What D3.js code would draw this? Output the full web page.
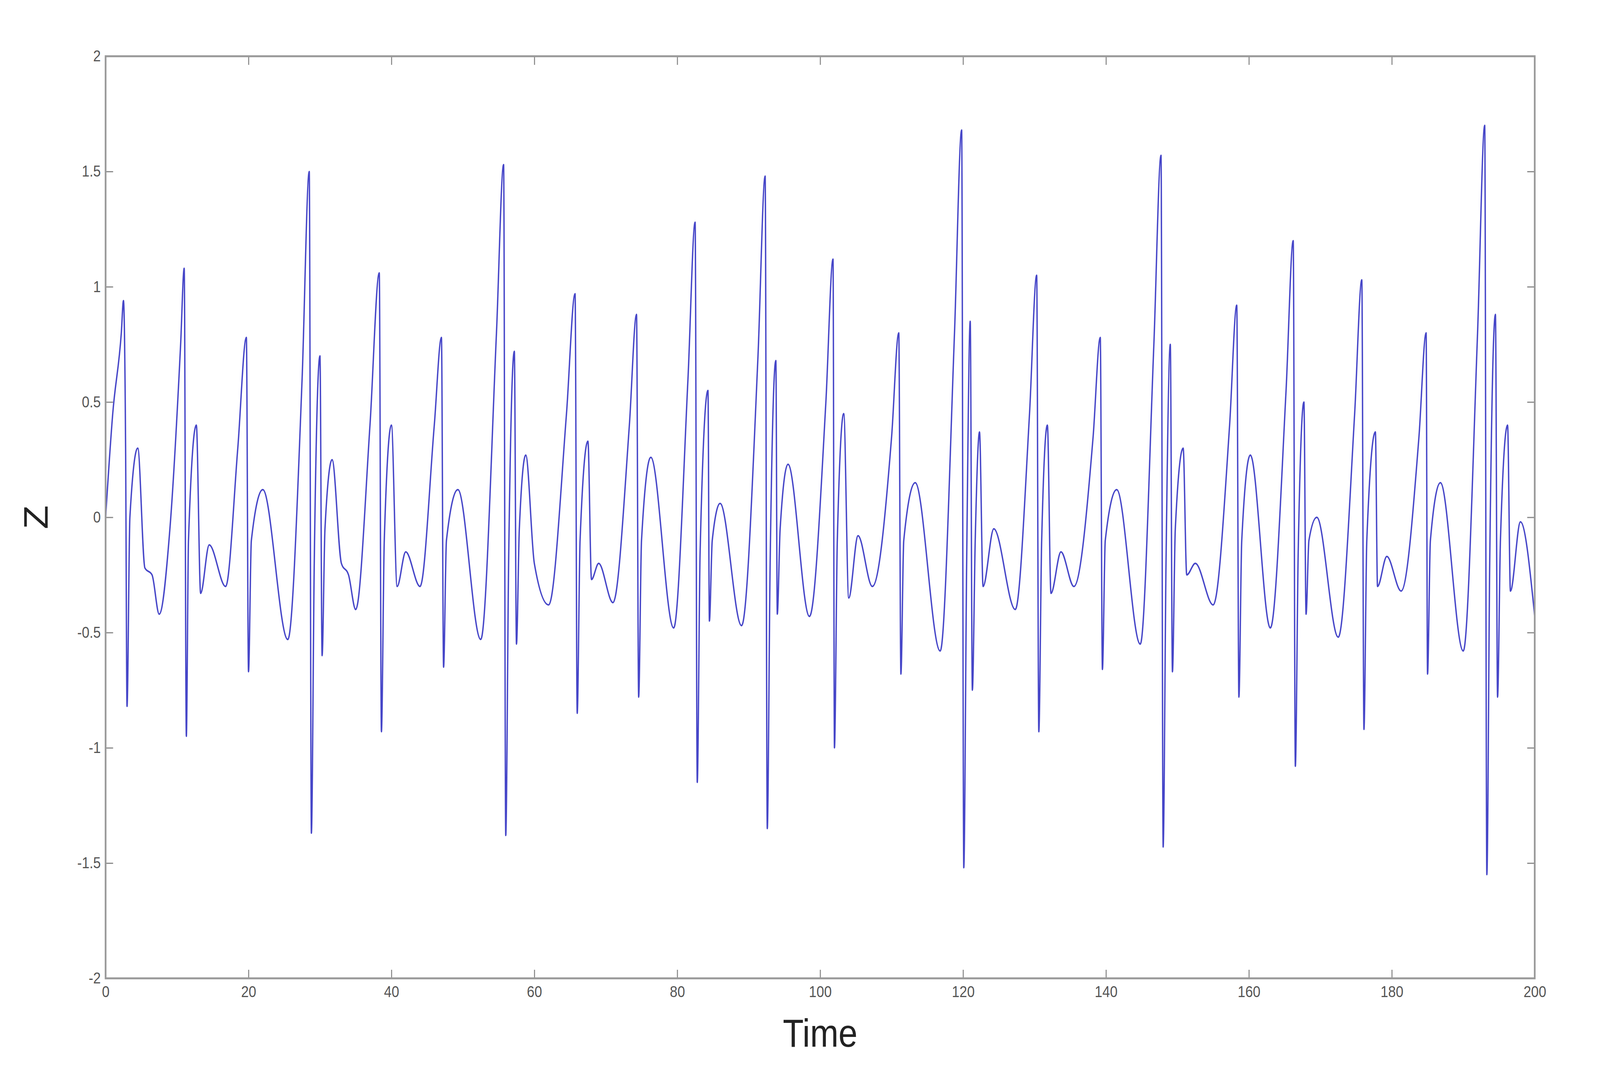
<!DOCTYPE html>
<html><head><meta charset="utf-8">
<script src="https://cdn.jsdelivr.net/npm/d3@7"></script>
<style>html,body{margin:0;background:#fff;overflow:hidden}svg{display:block;width:100vw;height:100vh}</style></head>
<body><svg id="c" viewBox="0 0 4682 2732" preserveAspectRatio="none"></svg>
<script>
const timeValues=[0,1,2.2,2.5,2.8,3.0,3.4,4.5,5.5,6.5,7.5,9,10.5,11,11.3,11.6,12.7,13.3,14.5,16.8,18.5,19.7,20,20.4,22,25.5,27.5,28.5,28.8,29.2,30,30.3,30.7,31.7,33,34,35,37,38.3,38.6,39,40,40.8,42,44,46,47,47.3,47.7,49.3,52.5,54.7,55.7,56,56.4,57.2,57.5,57.9,58.8,60,62,64.5,65.7,66,66.4,67.5,68,69,71,73.3,74.3,74.6,75,76.3,79.5,81.5,82.5,82.8,83.2,84.3,84.5,84.9,86,89,91.3,92.3,92.6,93,93.8,94,94.4,95.5,98.5,100.8,101.8,102,102.4,103.3,104,105.3,107.3,110,111,111.3,111.7,113.3,116.8,118.8,119.8,120.1,120.5,121,121.3,121.7,122.3,122.8,124.3,127.3,129.3,130.3,130.6,131,131.8,132.3,133.7,135.5,138.2,139.2,139.5,139.9,141.5,144.8,146.7,147.7,148,148.4,149,149.3,149.7,150.8,151.3,152.5,155,157.3,158.3,158.6,159,160.2,163,165.2,166.2,166.5,166.9,167.7,168,168.4,169.5,172.5,174.8,175.8,176.1,176.5,177.7,178,179.3,181.3,183.8,184.8,185,185.4,186.8,190,192,193,193.3,193.7,194.5,194.8,195.2,196.2,196.6,198,200];
const zValues=[0,0.45,0.8,0.94,0.3,-0.82,0,0.3,-0.22,-0.25,-0.42,-0.05,0.75,1.08,-0.95,-0.1,0.4,-0.33,-0.12,-0.3,0.3,0.78,-0.67,-0.1,0.12,-0.53,0.6,1.5,-1.37,-0.2,0.7,-0.6,-0.05,0.25,-0.2,-0.25,-0.4,0.4,1.06,-0.93,-0.1,0.4,-0.3,-0.15,-0.3,0.4,0.78,-0.65,-0.1,0.12,-0.53,0.8,1.53,-1.38,-0.2,0.72,-0.55,-0.05,0.27,-0.2,-0.38,0.45,0.97,-0.85,-0.1,0.33,-0.27,-0.2,-0.37,0.4,0.88,-0.78,-0.1,0.26,-0.48,0.6,1.28,-1.15,-0.15,0.55,-0.45,-0.1,0.06,-0.47,0.7,1.48,-1.35,-0.2,0.68,-0.42,-0.05,0.23,-0.43,0.5,1.12,-1.0,-0.1,0.45,-0.35,-0.08,-0.3,0.35,0.8,-0.68,-0.1,0.15,-0.58,0.8,1.68,-1.52,-0.2,0.85,-0.75,-0.1,0.37,-0.3,-0.05,-0.4,0.45,1.05,-0.93,-0.1,0.4,-0.33,-0.15,-0.3,0.35,0.78,-0.66,-0.1,0.12,-0.55,0.75,1.57,-1.43,-0.2,0.75,-0.67,-0.05,0.3,-0.25,-0.2,-0.38,0.4,0.92,-0.78,-0.1,0.27,-0.48,0.55,1.2,-1.08,-0.15,0.5,-0.42,-0.1,0.0,-0.52,0.45,1.03,-0.92,-0.1,0.37,-0.3,-0.17,-0.32,0.35,0.8,-0.68,-0.1,0.15,-0.58,0.8,1.7,-1.55,-0.2,0.88,-0.78,-0.1,0.4,-0.32,-0.02,-0.43];
const xTicks=[0,20,40,60,80,100,120,140,160,180,200];
const yTicks=[-2,-1.5,-1,-0.5,0,0.5,1,1.5,2];

const L=309,R=4491,T=144,B=2505;
const svg=d3.select("#c");
const x=d3.scaleLinear().domain([0,200]).range([L,R]);
const y=d3.scaleLinear().domain([-2,2]).range([B,T]);
const font="Liberation Sans, Arial, sans-serif";
const data=timeValues.map((t,i)=>[t,zValues[i]]);
svg.append("path").datum(data)
 .attr("d",d3.line().x(d=>x(d[0])).y(d=>y(d[1])).curve(d3.curveMonotoneX))
 .attr("fill","none").attr("stroke","#4646c8").attr("stroke-width",4);
const ax=(g)=>{g.selectAll("text").attr("font-family",font).attr("font-size",40).attr("fill","#555");g.selectAll("line").attr("stroke","#888").attr("stroke-width",3);g.select(".domain").remove();};
svg.append("g").attr("transform",`translate(0,${B})`).call(d3.axisBottom(x).tickValues(xTicks).tickSize(-22).tickPadding(20).tickFormat(d3.format("d"))).call(ax);
svg.append("g").attr("transform",`translate(0,${T})`).call(d3.axisTop(x).tickValues(xTicks).tickSize(-22).tickFormat("")).call(ax);
svg.append("g").attr("transform",`translate(${L},0)`).call(d3.axisLeft(y).tickValues(yTicks).tickSize(-22).tickPadding(14).tickFormat(d=>String(d))).call(ax);
svg.append("g").attr("transform",`translate(${R},0)`).call(d3.axisRight(y).tickValues(yTicks).tickSize(-22).tickFormat("")).call(ax);
svg.append("rect").attr("x",L).attr("y",T).attr("width",R-L).attr("height",B-T).attr("fill","none").attr("stroke","#999").attr("stroke-width",5);
svg.append("text").attr("x",(L+R)/2).attr("y",2680).attr("text-anchor","middle").attr("font-family",font).attr("font-size",100).attr("fill","#222").text("Time");
svg.append("text").attr("transform",`translate(140,${y(0)}) rotate(-90)`).attr("text-anchor","middle").attr("font-family",font).attr("font-size",100).attr("fill","#222").text("Z");
</script></body></html>
